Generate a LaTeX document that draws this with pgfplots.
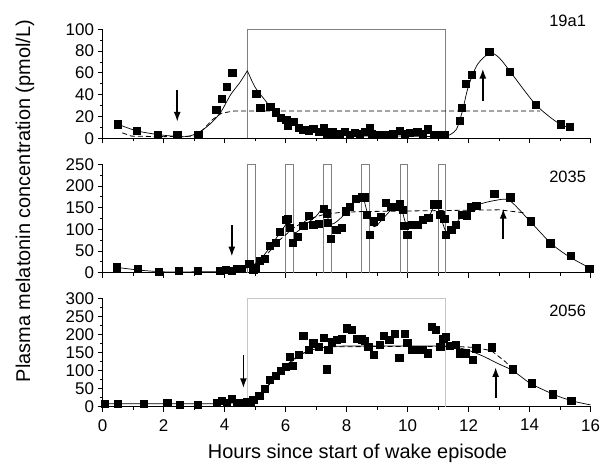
\documentclass[border=0pt]{standalone}
\usepackage{fontspec}
\setmainfont{Liberation Sans}
\usepackage{pgfplots}
\pgfplotsset{compat=1.18}
\usetikzlibrary{arrows.meta}

\pgfplotsset{
  panel/.style={
    scale only axis, width=488bp, height=108.4bp, anchor=south west,
    xmin=0, xmax=16, xtick={0,2,...,16}, minor x tick num=1,
    axis x line*=bottom, axis y line*=left,
    axis line style={-, line width=0.9pt},
    tick align=outside, major tick length=5bp, minor tick length=3bp,
    tick style={black, line width=0.9pt},
    ticklabel style={font=\fontsize{17}{17}\selectfont},
    xticklabel style={yshift=-4bp},
    /pgf/number format/assume math mode=true,
    minor y tick num=1, clip=false,
  },
  dat/.style={only marks, mark=square*, mark size=3.6bp, black},
  fit/.style={black, line width=0.7pt, smooth, no markers},
  thr/.style={black, line width=0.8pt, dash pattern=on 5bp off 3bp, no markers},
  arr/.style={black, line width=1.8pt, no markers, -{Latex[length=10bp,width=7bp]}},
  box/.style={line width=0.7pt, no markers},
}

\begin{document}
\begin{tikzpicture}
\useasboundingbox (0,0) rectangle (605bp,472bp);

% panel 1: 19a1
\begin{axis}[panel, at={(102.5bp,333.7bp)}, height=109bp,
  ymin=0, ymax=100, ytick={0,20,...,100}, xticklabels={}]
\addplot[box, gray] coordinates {(4.75,0) (4.75,100) (11.25,100) (11.25,0)};
\addplot[fit] coordinates {(0.5,13) (1.1,7) (1.8,3.5) (2.4,1.8) (2.8,1.8) (3.2,6) (3.6,15) (3.9,25) (4.2,40) (4.5,51) (4.75,62)};
\addplot[fit] coordinates {(4.75,62) (5.0,47) (5.3,36) (5.6,26) (6.0,18) (6.5,10) (7.0,6) (7.5,4) (8.0,2.5) (9,2) (10,2) (11,1.5) (11.3,2)};
\addplot[fit] coordinates {(11.3,2) (11.6,8) (11.8,25) (12.0,48) (12.3,68) (12.7,78) (13.0,74) (13.4,60) (13.8,45) (14.2,31) (14.6,21) (15.0,13) (15.3,10)};
\addplot[thr] coordinates {(0.65,5) (0.95,2) (2.0,1.5) (3.0,2) (3.3,8) (3.6,17) (3.9,23) (4.3,25) (14.35,25)};
\addplot[dat] coordinates {
(0.50,13) (1.13,7) (1.80,3) (2.45,3.5) (3.14,3) (3.73,26) (3.91,36) (4.07,47) (4.25,60)
(5.04,41) (5.17,28) (5.50,29) (5.67,24) (5.84,19) (6.02,17) (6.08,12) (6.27,15) (6.43,10)
(6.58,8) (6.75,7.5) (6.91,9) (7.08,6) (7.24,10) (7.37,4.5) (7.53,6) (7.62,4.5) (7.79,4)
(7.95,6) (8.11,3) (8.28,5) (8.44,4.5) (8.61,6) (8.75,9.7) (8.82,4.5) (8.99,3) (9.20,3.5)
(9.36,3) (9.53,4.5) (9.75,7) (9.92,4.5) (10.08,5) (10.32,6) (10.50,4) (10.66,8.3)
(10.85,3) (11.01,3) (11.23,3) (11.72,16) (11.78,28) (11.91,50) (12.10,58) (12.68,79.5)
(13.34,61) (14.20,31) (15.02,13) (15.33,11)};
\addplot[arr] coordinates {(2.45,44) (2.45,15)};
\addplot[arr] coordinates {(12.47,34) (12.47,64)};
\node[font=\fontsize{16.5}{16.5}\selectfont] at (axis cs:15.25,108) {19a1};
\end{axis}

% panel 2: 2035
\begin{axis}[panel, at={(102.5bp,199.3bp)},
  ymin=0, ymax=250, ytick={0,50,...,250}, xticklabels={}]
\addplot[box, gray] coordinates {(4.75,0) (4.75,250) (5.0,250) (5.0,0)};
\addplot[box, gray] coordinates {(6.0,0) (6.0,250) (6.25,250) (6.25,0)};
\addplot[box, gray] coordinates {(7.25,0) (7.25,250) (7.5,250) (7.5,0)};
\addplot[box, gray] coordinates {(8.5,0) (8.5,250) (8.75,250) (8.75,0)};
\addplot[box, gray] coordinates {(9.75,0) (9.75,250) (10.0,250) (10.0,0)};
\addplot[box, gray] coordinates {(11.0,0) (11.0,250) (11.25,250) (11.25,0)};
\addplot[fit] coordinates {(0.5,12) (1.2,6) (2,2) (3,2) (4,3) (4.5,7) (4.8,14) (5.1,25) (5.4,50)
(5.7,80) (6.0,110) (6.12,118) (6.3,92) (6.6,108) (7.0,130) (7.25,148) (7.5,112) (7.9,132)
(8.1,150) (8.5,176) (8.68,140) (8.9,106) (9.2,125) (9.5,148) (9.75,158) (9.98,108) (10.3,112)
(10.7,130) (10.95,158) (11.3,92) (11.8,133) (12.25,155) (12.9,167) (13.35,166) (14.0,120)
(14.7,68) (15.3,37) (16,10)};
\addplot[thr] coordinates {(4.3,3) (4.8,12) (5.3,35) (5.8,75) (6.3,105) (6.8,125) (7.3,135)
(7.8,139) (8.5,141) (13.0,145) (13.85,138)};
\addplot[dat] coordinates {
(0.47,12.5) (1.15,10) (1.85,2.3) (2.49,4) (3.11,4) (3.83,5) (4.05,6.5) (4.24,4) (4.40,8.5)
(4.56,10) (4.81,21.5) (4.94,7.7) (5.02,11.5) (5.16,27.7) (5.33,33) (5.49,62) (5.67,70)
(5.82,94.6) (6.00,123) (6.08,125) (6.15,104) (6.24,69) (6.41,83) (6.58,108) (6.75,131)
(6.91,110) (7.09,113) (7.24,148.5) (7.35,137) (7.38,116) (7.48,79) (7.66,99) (7.84,104)
(7.97,142) (8.11,152) (8.31,171.5) (8.50,175) (8.58,174) (8.66,133) (8.75,87) (8.90,119)
(9.12,129) (9.28,162) (9.45,152) (9.60,152) (9.75,158) (9.84,146) (9.89,108) (9.99,88.5)
(10.14,111.6) (10.32,111.6) (10.50,121.5) (10.68,127) (10.85,158) (10.99,158) (11.07,134.6)
(11.20,124) (11.25,88.5) (11.43,98.5) (11.59,110) (11.78,133) (11.94,131) (12.08,151)
(12.25,154.5) (12.84,183) (13.37,174) (14.03,119) (14.68,68) (15.34,39) (15.96,10)};
\addplot[arr] coordinates {(4.24,110) (4.24,37)};
\addplot[arr] coordinates {(13.14,78) (13.14,148)};
\node[font=\fontsize{16.5}{16.5}\selectfont] at (axis cs:15.25,221) {2035};
\end{axis}

% panel 3: 2056
\begin{axis}[panel, at={(102.5bp,65.3bp)},
  ymin=0, ymax=300, ytick={0,50,...,300}]
\addplot[box, black!22] coordinates {(4.75,0) (4.75,300) (11.25,300) (11.25,0)};
\addplot[fit] coordinates {(0,8) (1,8) (2,8) (3,8) (4,9) (4.5,12) (4.9,20) (5.3,45) (5.7,85)
(6.1,120) (6.5,145) (7.0,160) (7.5,166) (8.0,168) (9,168) (10,168) (11,168) (11.5,166)
(12.0,156) (12.5,139) (13.0,118) (13.45,100) (14.0,66) (14.5,45) (15.0,27) (15.5,14) (16,5)};
\addplot[thr] coordinates {(5.0,22) (5.5,65) (6.0,110) (6.5,145) (7.0,162) (7.5,166) (11.5,167)
(12.2,164) (12.75,155) (13.2,125) (13.45,104)};
\addplot[dat] coordinates {
(0.08,9.4) (0.49,9.4) (1.34,7.5) (2.12,11) (2.52,4.7) (3.12,6.5) (3.74,11) (3.91,16.6)
(4.07,12) (4.24,23) (4.40,12) (4.56,11) (4.73,13.8) (4.84,12) (4.94,20) (5.14,29.5)
(5.32,50.8) (5.49,73.8) (5.67,85.8) (5.84,98.8) (6.00,110.7) (6.15,138) (6.24,112.6)
(6.42,143) (6.58,196.5) (6.75,157) (6.91,175.6) (7.08,166) (7.24,192) (7.35,103.6)
(7.40,158) (7.51,179) (7.68,184.6) (7.84,189) (8.00,217) (8.17,214) (8.34,189) (8.50,187)
(8.60,183.5) (8.71,166) (8.88,145) (9.08,171) (9.23,196.5) (9.40,184.6) (9.57,203)
(9.73,136) (9.92,203) (9.99,178) (10.14,157) (10.32,158) (10.50,157) (10.65,148)
(10.79,221) (10.93,212) (11.07,166) (11.17,189) (11.26,194) (11.39,169) (11.59,171)
(11.72,148) (11.89,148) (12.14,130) (12.25,162) (12.75,164.6) (13.45,103.6) (14.06,65)
(14.76,34.6) (15.37,17)};
\addplot[arr] coordinates {(4.62,143) (4.62,51)};
\addplot[arr] coordinates {(12.89,23) (12.89,110)};
\node[font=\fontsize{16.5}{16.5}\selectfont] at (axis cs:15.25,265) {2056};
\end{axis}

\node[rotate=90, font=\fontsize{20}{20}\selectfont] at (25bp,271bp) {Plasma melatonin concentration (pmol/L)};
\node[anchor=base, font=\fontsize{20}{20}\selectfont] at (357.5bp,14bp) {Hours since start of wake episode};
\end{tikzpicture}
\end{document}
